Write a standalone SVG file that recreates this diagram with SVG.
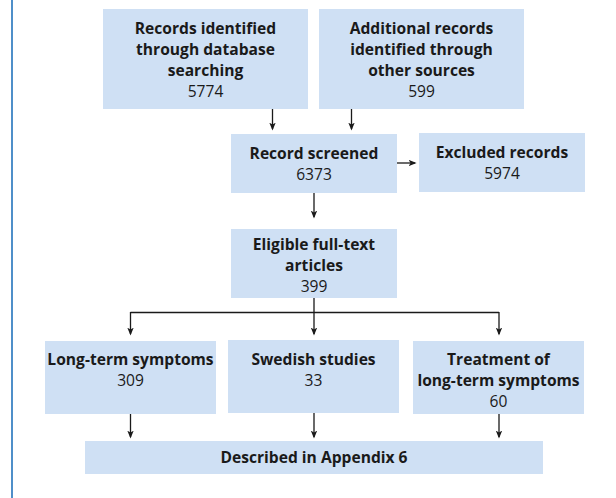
<svg xmlns="http://www.w3.org/2000/svg" width="616" height="498" viewBox="0 0 616 498">
<defs>
<marker id="ah" markerWidth="8" markerHeight="10" refX="8" refY="4" orient="auto" markerUnits="userSpaceOnUse" viewBox="0 0 10 8">
<path d="M0,0 L10,4 L0,8 L2.5,4 Z" fill="#1a1a1a"/>
</marker>
</defs>
<style>
.box{fill:#cfe0f4;}
text{font-family:"Open Sans","Noto Sans","Liberation Sans",sans-serif;fill:#1a1a1a;text-anchor:middle;}
.b{font-weight:700;font-size:15.6px;}
.n{font-weight:400;font-size:15.6px;}
.c{fill:none;stroke:#1a1a1a;stroke-width:1.3;}
</style>
<rect x="0" y="0" width="616" height="498" fill="#ffffff"/>
<rect x="11" y="0" width="2" height="498" fill="#4f8fc9"/>
<g id="connectors">
<line class="c" x1="272.5" y1="109" x2="272.5" y2="129" marker-end="url(#ah)"/>
<line class="c" x1="351.5" y1="109" x2="351.5" y2="129" marker-end="url(#ah)"/>
<line class="c" x1="397" y1="163" x2="415" y2="163" marker-end="url(#ah)"/>
<line class="c" x1="314" y1="193" x2="314" y2="217" marker-end="url(#ah)"/>
<line class="c" x1="314" y1="298" x2="314" y2="312.5"/>
<line class="c" x1="130.5" y1="312.5" x2="499" y2="312.5"/>
<line class="c" x1="130.5" y1="312" x2="130.5" y2="334" marker-end="url(#ah)"/>
<line class="c" x1="314" y1="312.5" x2="314" y2="334" marker-end="url(#ah)"/>
<line class="c" x1="499" y1="312" x2="499" y2="334" marker-end="url(#ah)"/>
<line class="c" x1="130.5" y1="414" x2="130.5" y2="437" marker-end="url(#ah)"/>
<line class="c" x1="314" y1="413" x2="314" y2="437" marker-end="url(#ah)"/>
<line class="c" x1="499" y1="414" x2="499" y2="437" marker-end="url(#ah)"/>
</g>
<g id="db">
<rect class="box" x="103" y="9" width="205" height="100"/>
<text class="b" x="205.5" y="34">Records identified</text>
<text class="b" x="205.5" y="55">through database</text>
<text class="b" x="205.5" y="76">searching</text>
<text class="n" x="205.5" y="97">5774</text>
</g>
<g id="other">
<rect class="box" x="319" y="9" width="205" height="100"/>
<text class="b" x="421.5" y="34">Additional records</text>
<text class="b" x="421.5" y="55">identified through</text>
<text class="b" x="421.5" y="76">other sources</text>
<text class="n" x="421.5" y="97">599</text>
</g>
<g id="screened">
<rect class="box" x="231" y="134" width="166" height="59"/>
<text class="b" x="314" y="159">Record screened</text>
<text class="n" x="314" y="180">6373</text>
</g>
<g id="excluded">
<rect class="box" x="419" y="133" width="166" height="59"/>
<text class="b" x="502" y="158">Excluded records</text>
<text class="n" x="502" y="179">5974</text>
</g>
<g id="eligible">
<rect class="box" x="231" y="229" width="166" height="69"/>
<text class="b" x="314" y="250">Eligible full-text</text>
<text class="b" x="314" y="271">articles</text>
<text class="n" x="314" y="292">399</text>
</g>
<g id="longterm">
<rect class="box" x="45" y="341" width="171" height="73"/>
<text class="b" x="130.5" y="365">Long-term symptoms</text>
<text class="n" x="130.5" y="386">309</text>
</g>
<g id="swedish">
<rect class="box" x="228" y="340" width="171" height="73"/>
<text class="b" x="313.5" y="365">Swedish studies</text>
<text class="n" x="313.5" y="386">33</text>
</g>
<g id="treatment">
<rect class="box" x="413" y="341" width="171" height="73"/>
<text class="b" x="498.5" y="365">Treatment of</text>
<text class="b" x="498.5" y="386">long-term symptoms</text>
<text class="n" x="498.5" y="407">60</text>
</g>
<g id="described">
<rect class="box" x="85" y="441" width="458" height="33"/>
<text class="b" x="314" y="463">Described in Appendix 6</text>
</g>
</svg>
